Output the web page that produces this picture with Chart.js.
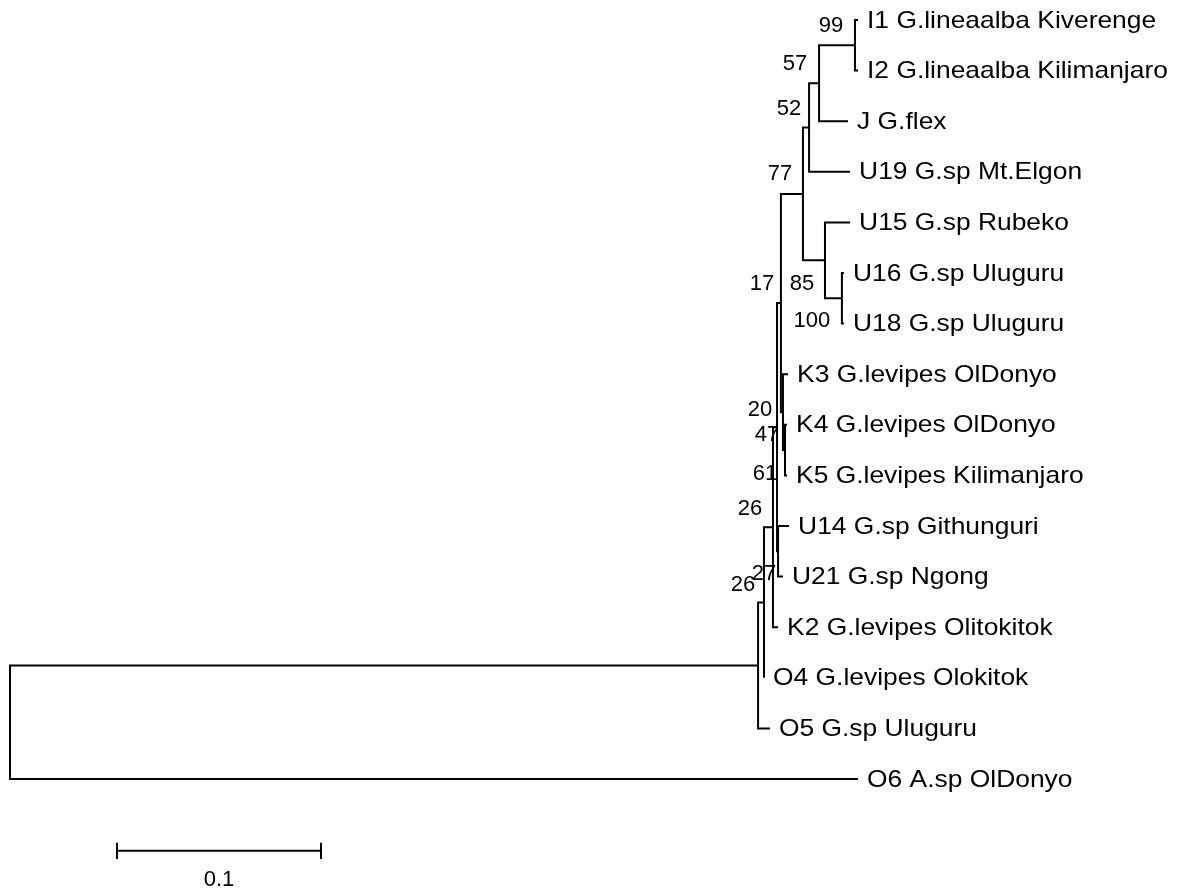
<!DOCTYPE html>
<html>
<head>
<meta charset="utf-8">
<script src="https://cdn.jsdelivr.net/npm/chart.js@4/dist/chart.umd.min.js"></script>
<style>
  html, body { margin: 0; padding: 0; background: #fff; }
  #tree { display: block; }
</style>
</head>
<body>
<canvas id="tree" width="1188" height="890"></canvas>
<script>
// tips, top to bottom
const taxa = [
  'I1 G.lineaalba Kiverenge', 'I2 G.lineaalba Kilimanjaro', 'J G.flex', 'U19 G.sp Mt.Elgon',
  'U15 G.sp Rubeko', 'U16 G.sp Uluguru', 'U18 G.sp Uluguru', 'K3 G.levipes OlDonyo',
  'K4 G.levipes OlDonyo', 'K5 G.levipes Kilimanjaro', 'U14 G.sp Githunguri', 'U21 G.sp Ngong',
  'K2 G.levipes Olitokitok', 'O4 G.levipes Olokitok', 'O5 G.sp Uluguru', 'O6 A.sp OlDonyo'
];
// distance of each tip from the root
const tipDepth = [
  0.4157, 0.4157, 0.4108, 0.4118, 0.4118, 0.4088, 0.4088, 0.3814,
  0.3809, 0.3809, 0.3819, 0.3789, 0.3765, 0.3696, 0.3725, 0.4157
];

// internal nodes: a number is a tip index, 'nX' is another internal node
const nodeChildren = [
  ['n1', 15], ['n2', 14], ['n3', 13], ['n4', 12], ['n5', 'n12'],
  ['n6', 'n13'], ['n7', 'n10'], ['n8', 3], ['n9', 2], [0, 1],
  [4, 'n11'], [5, 6], [10, 11], [7, 'n14'], [8, 9]
];
const nodeDepth = [
  0, 0.3667, 0.3696, 0.3740, 0.3760,
  0.3779, 0.3887, 0.3917, 0.3966, 0.4142,
  0.3995, 0.4078, 0.3765, 0.3789, 0.3799
];
const bootstrap = [null, null, 26, 26, 61, 17, 77, 52, 57, 99, 85, 100, 27, 20, 47];

const scaleBarLength = 0.1;
const scaleBarLabel = '0.1';

// layout (pixels / positions), not data
const bootOffset = [
  null, null, [-21, -18], [-23, -18], [-12, 47],
  [-19, -19], [-23, -20], [-20, -19], [-24, -19], [-24, -19],
  [-23, 24], [-30, 23], [-14, 23], [-23, -2], [-18, -15]
];
const scaleBarX = 0.05245;
const scaleBarRow = 16.42;
const FONT = 'Arial, "Liberation Sans", sans-serif';

function nodeIdx(c) { return +c.slice(1); }
function depthOf(c) { return typeof c === 'number' ? tipDepth[c] : nodeDepth[nodeIdx(c)]; }
function rowOf(c) {
  if (typeof c === 'number') return c;
  const kids = nodeChildren[nodeIdx(c)];
  return (rowOf(kids[0]) + rowOf(kids[1])) / 2;
}

const lineStyle = {
  showLine: true, pointRadius: 0, borderColor: '#000', borderWidth: 2,
  fill: false, tension: 0
};

const datasets = nodeChildren.map((kids, i) => {
  const [a, b] = kids;
  const d = nodeDepth[i];
  return Object.assign({
    data: [
      {x: depthOf(a), y: rowOf(a)}, {x: d, y: rowOf(a)},
      {x: d, y: rowOf(b)}, {x: depthOf(b), y: rowOf(b)}
    ]
  }, lineStyle);
});

// scale bar
datasets.push(Object.assign({data: [
  {x: scaleBarX, y: scaleBarRow}, {x: scaleBarX + scaleBarLength, y: scaleBarRow}
]}, lineStyle));
[scaleBarX, scaleBarX + scaleBarLength].forEach(v => {
  datasets.push(Object.assign({data: [
    {x: v, y: scaleBarRow - 0.16}, {x: v, y: scaleBarRow + 0.16}
  ]}, lineStyle));
});

const labelPlugin = {
  id: 'treeLabels',
  afterDatasetsDraw(chart) {
    const ctx = chart.ctx;
    const xs = chart.scales.x, ys = chart.scales.y;
    ctx.save();
    ctx.fillStyle = '#000';
    ctx.textBaseline = 'middle';

    ctx.font = '24px ' + FONT;
    ctx.textAlign = 'left';
    taxa.forEach((name, i) => {
      ctx.save();
      ctx.translate(xs.getPixelForValue(tipDepth[i]) + 9, ys.getPixelForValue(i) + 1);
      ctx.scale(1.1, 1);
      ctx.fillText(name, 0, 0);
      ctx.restore();
    });

    ctx.font = '22px ' + FONT;
    ctx.textAlign = 'center';
    bootstrap.forEach((b, i) => {
      if (b == null) return;
      const px = xs.getPixelForValue(nodeDepth[i]);
      const py = ys.getPixelForValue(rowOf('n' + i));
      ctx.fillText(String(b), px + bootOffset[i][0], py + bootOffset[i][1]);
    });

    ctx.fillText(scaleBarLabel,
      xs.getPixelForValue(scaleBarX + scaleBarLength / 2),
      ys.getPixelForValue(scaleBarRow) + 29);
    ctx.restore();
  }
};

new Chart(document.getElementById('tree'), {
  type: 'scatter',
  data: { datasets: datasets },
  options: {
    responsive: false,
    animation: false,
    layout: { padding: 0 },
    plugins: { legend: { display: false }, tooltip: { enabled: false } },
    scales: {
      x: { type: 'linear', display: false, min: -10 / 2040, max: 1178 / 2040 },
      y: { type: 'linear', display: false, reverse: true, min: -20 / 50.6, max: 15 + 111 / 50.6 }
    }
  },
  plugins: [labelPlugin]
});
</script>
</body>
</html>
